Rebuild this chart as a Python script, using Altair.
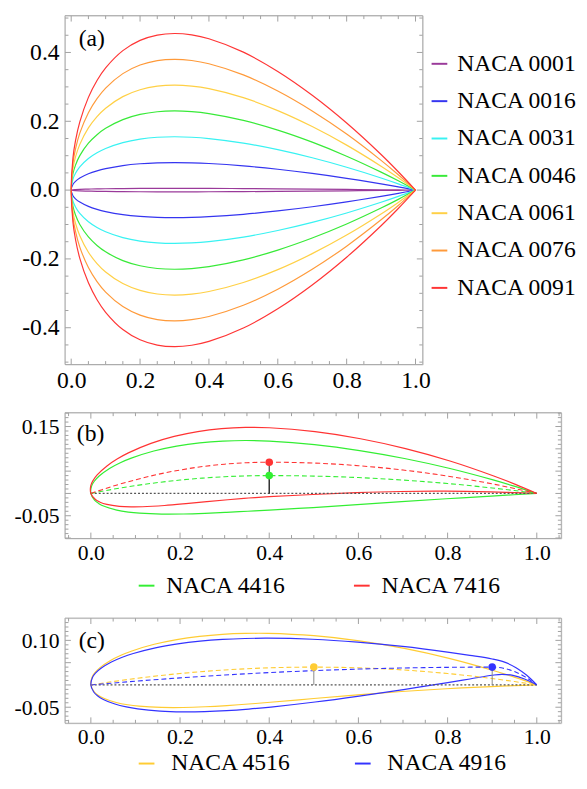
import altair as alt
import pandas as pd

FONT = "Liberation Serif"
FRAME = "#a8a8a8"
TICK = "#a0a0a0"

# ---------------- panel (a): symmetric sections, half-thickness read at X_A ----------------
X_A = [0.0, 0.005, 0.0125, 0.025, 0.05, 0.075, 0.1, 0.15, 0.2, 0.25, 0.3, 0.35, 0.4,
       0.5, 0.6, 0.7, 0.8, 0.9, 0.95, 1.0]
NAMES_A = ["NACA 0001", "NACA 0016", "NACA 0031", "NACA 0046", "NACA 0061", "NACA 0076", "NACA 0091"]
COLORS_A = ["#9a3a9a", "#3535f0", "#38f2f2", "#38ea38", "#ffd046", "#ff9a3a", "#ff3535"]
HALF_0001 = [0, 0.001, 0.0016, 0.0022, 0.003, 0.0035, 0.0039, 0.0045, 0.0048, 0.005, 0.005, 0.005,
             0.0048, 0.0044, 0.0038, 0.003, 0.0021, 0.0011, 0.0006, 0]
HALF_0016 = [0, 0.0163, 0.0253, 0.0349, 0.0474, 0.056, 0.0624, 0.0713, 0.0765, 0.0792, 0.08, 0.0793,
             0.0773, 0.0705, 0.0606, 0.0485, 0.0343, 0.0182, 0.0094, 0]
HALF_0031 = [0, 0.0316, 0.0489, 0.0676, 0.0918, 0.1085, 0.121, 0.1381, 0.1482, 0.1535, 0.155, 0.1536,
             0.1498, 0.1366, 0.1175, 0.0939, 0.0664, 0.0353, 0.0182, 0]
HALF_0046 = [0, 0.0468, 0.0726, 0.1002, 0.1363, 0.161, 0.1795, 0.2049, 0.2199, 0.2278, 0.2301, 0.228,
             0.2223, 0.2026, 0.1743, 0.1393, 0.0986, 0.0523, 0.027, 0]
HALF_0061 = [0, 0.0621, 0.0963, 0.1329, 0.1807, 0.2135, 0.238, 0.2717, 0.2916, 0.302, 0.3051, 0.3023,
             0.2948, 0.2687, 0.2311, 0.1847, 0.1307, 0.0694, 0.0358, 0]
HALF_0076 = [0, 0.0774, 0.1199, 0.1656, 0.2251, 0.266, 0.2966, 0.3385, 0.3634, 0.3763, 0.3801, 0.3767,
             0.3673, 0.3348, 0.288, 0.2301, 0.1629, 0.0864, 0.0446, 0]
HALF_0091 = [0, 0.0926, 0.1436, 0.1983, 0.2695, 0.3185, 0.3551, 0.4053, 0.4351, 0.4505, 0.4551, 0.451,
             0.4398, 0.4009, 0.3448, 0.2756, 0.195, 0.1035, 0.0534, 0]
HALF_A = [HALF_0001, HALF_0016, HALF_0031, HALF_0046, HALF_0061, HALF_0076, HALF_0091]

# ---------------- panel (b): NACA 4416 / 7416 ----------------
NAMES_B = ["NACA 4416", "NACA 7416"]
COLORS_B = ["#33ee33", "#ff3333"]
UX_4416 = [0, 0.0018, 0.0077, 0.0186, 0.0418, 0.066, 0.0907, 0.1412, 0.1924, 0.2441, 0.296, 0.348, 0.4,
           0.5016, 0.6027, 0.7032, 0.803, 0.902, 0.9511, 1.0]
UY_4416 = [0, 0.017, 0.0273, 0.0391, 0.0561, 0.0689, 0.0792, 0.0951, 0.1061, 0.1134, 0.1174, 0.1187, 0.1173,
           0.1094, 0.0961, 0.0783, 0.0564, 0.0303, 0.0157, 0]
LX_4416 = [0, 0.0082, 0.0173, 0.0314, 0.0582, 0.084, 0.1093, 0.1588, 0.2076, 0.2559, 0.304, 0.352, 0.4,
           0.4984, 0.5973, 0.6968, 0.797, 0.898, 0.9489, 1.0]
LY_4416 = [0, -0.015, -0.0223, -0.0294, -0.0373, -0.0417, -0.0442, -0.0463, -0.0461, -0.0446, -0.0424,
           -0.0399, -0.0373, -0.0316, -0.025, -0.0183, -0.0119, -0.0059, -0.0029, 0]
UX_7416 = [0, -0.0003, 0.0044, 0.0141, 0.0361, 0.0597, 0.0841, 0.1348, 0.1868, 0.2397, 0.293, 0.3465, 0.4,
           0.5027, 0.6047, 0.7056, 0.8053, 0.9035, 0.952, 1.0]
UY_7416 = [0, 0.0171, 0.0282, 0.0416, 0.0617, 0.0777, 0.091, 0.1123, 0.1279, 0.1387, 0.1453, 0.1481, 0.1473,
           0.1385, 0.1227, 0.1006, 0.0728, 0.0392, 0.0204, 0]
LX_7416 = [0, 0.0103, 0.0206, 0.0359, 0.0639, 0.0903, 0.1159, 0.1652, 0.2132, 0.2603, 0.307, 0.3535, 0.4,
           0.4973, 0.5953, 0.6944, 0.7947, 0.8965, 0.948, 1.0]
LY_7416 = [0, -0.0137, -0.0196, -0.0246, -0.0289, -0.0301, -0.0298, -0.027, -0.0229, -0.0184, -0.0141,
           -0.0103, -0.0073, -0.0024, 0.0018, 0.0044, 0.005, 0.0035, 0.002, 0]
CX_B = [0, 0.025, 0.05, 0.1, 0.15, 0.2, 0.25, 0.3, 0.35, 0.4, 0.5, 0.6, 0.7, 0.8, 0.9, 0.95, 1.0]
CY_4416 = [0, 0.0048, 0.0094, 0.0175, 0.0244, 0.03, 0.0344, 0.0375, 0.0394, 0.04, 0.0389, 0.0356, 0.03,
           0.0222, 0.0122, 0.0064, 0]
CY_7416 = [0, 0.0085, 0.0164, 0.0306, 0.0427, 0.0525, 0.0602, 0.0656, 0.0689, 0.07, 0.0681, 0.0622, 0.0525,
           0.0389, 0.0214, 0.0112, 0]
MAXC_X_B = [0.4, 0.4]
MAXC_Y_B = [0.04, 0.07]

# ---------------- panel (c): NACA 4516 / 4916 ----------------
NAMES_C = ["NACA 4516", "NACA 4916"]
COLORS_C = ["#ffcc33", "#3333ff"]
UX_4516 = [0, 0.0025, 0.0086, 0.0198, 0.0432, 0.0675, 0.0921, 0.1421, 0.1927, 0.2437, 0.2949, 0.3462, 0.3975,
           0.5, 0.6019, 0.7031, 0.8033, 0.9023, 0.9513, 1.0]
UY_4516 = [0, 0.0169, 0.0269, 0.0384, 0.0545, 0.0666, 0.0763, 0.0912, 0.1018, 0.109, 0.1135, 0.1156, 0.1157,
           0.1105, 0.099, 0.082, 0.0597, 0.0324, 0.0169, 0]
LX_4516 = [0, 0.0075, 0.0164, 0.0302, 0.0568, 0.0825, 0.1079, 0.1579, 0.2073, 0.2563, 0.3051, 0.3538, 0.4025,
           0.5, 0.5981, 0.6969, 0.7967, 0.8977, 0.9487, 1.0]
LY_4516 = [0, -0.0153, -0.023, -0.0306, -0.0393, -0.0444, -0.0475, -0.0504, -0.0506, -0.049, -0.0463,
           -0.0428, -0.0389, -0.0305, -0.0222, -0.0148, -0.0085, -0.0036, -0.0017, 0]
UX_4916 = [0, 0.0036, 0.0103, 0.022, 0.046, 0.0705, 0.0951, 0.1447, 0.1947, 0.2449, 0.2953, 0.3457, 0.3962,
           0.4972, 0.5982, 0.699, 0.7997, 0.8499, 0.9, 0.9277, 0.9535, 0.9775, 1.0]
UY_4916 = [0, 0.0167, 0.0263, 0.0369, 0.0515, 0.0622, 0.0706, 0.0833, 0.0921, 0.0982, 0.1021, 0.1042, 0.1049,
           0.1025, 0.0961, 0.0865, 0.0738, 0.0664, 0.0582, 0.0511, 0.0387, 0.0216, 0]
LX_4916 = [0, 0.0064, 0.0147, 0.028, 0.054, 0.0795, 0.1049, 0.1553, 0.2053, 0.2551, 0.3047, 0.3543, 0.4038,
           0.5028, 0.6018, 0.701, 0.8003, 0.8501, 0.9, 0.9223, 0.9465, 0.9725, 1.0]
LY_4916 = [0, -0.0158, -0.0241, -0.0325, -0.0429, -0.0494, -0.0538, -0.0588, -0.0605, -0.0599, -0.0577,
           -0.0541, -0.0496, -0.0383, -0.025, -0.0104, 0.0052, 0.0134, 0.0218, 0.0239, 0.0213, 0.0134, 0]
CX_4516 = [0, 0.025, 0.05, 0.1, 0.2, 0.3, 0.4, 0.5, 0.6, 0.7, 0.8, 0.9, 0.95, 1.0]
CY_4516 = [0, 0.0039, 0.0076, 0.0144, 0.0256, 0.0336, 0.0384, 0.04, 0.0384, 0.0336, 0.0256, 0.0144, 0.0076, 0]
CX_4916 = [0, 0.025, 0.05, 0.1, 0.2, 0.3, 0.4, 0.5, 0.6, 0.7, 0.8, 0.85, 0.9, 0.925, 0.95, 0.975, 1.0]
CY_4916 = [0, 0.0022, 0.0043, 0.0084, 0.0158, 0.0222, 0.0277, 0.0321, 0.0356, 0.038, 0.0395, 0.0399, 0.04,
           0.0375, 0.03, 0.0175, 0]
MAXC_X_C = [0.5, 0.9]
MAXC_Y_C = [0.04, 0.04]

CHORD_X = [0.0, 1.0]
CHORD_Y = [0.0, 0.0]

# tick values
X_MAJOR = [0.0, 0.2, 0.4, 0.6, 0.8, 1.0]
X_MINOR = [0.05, 0.1, 0.15, 0.25, 0.3, 0.35, 0.45, 0.5, 0.55, 0.65, 0.7, 0.75, 0.85, 0.9, 0.95]
X_MINOR_BC = [-0.05] + X_MINOR + [1.05]
Y_MAJOR_A = [-0.4, -0.2, 0.0, 0.2, 0.4]
Y_MINOR_A = [-0.5, -0.45, -0.35, -0.3, -0.25, -0.15, -0.1, -0.05, 0.05, 0.1, 0.15, 0.25, 0.3, 0.35, 0.45, 0.5]
Y_MAJOR_B = [-0.1, -0.05, 0.0, 0.05, 0.1, 0.15]
Y_MINOR_B = [round(-0.09 + 0.01 * i, 2) for i in range(28) if round(-0.09 + 0.01 * i, 2) not in Y_MAJOR_B]
Y_MAJOR_C = [-0.05, 0.0, 0.05, 0.1]
Y_MINOR_C = [round(-0.08 + 0.01 * i, 2) for i in range(23) if round(-0.08 + 0.01 * i, 2) not in Y_MAJOR_C]


def outline(name, ux, uy, lx, ly):
    rows = []
    for x, y in zip(ux[::-1], uy[::-1]):
        rows.append({"name": name, "x": x, "y": y, "o": len(rows)})
    for x, y in zip(lx[1:], ly[1:]):
        rows.append({"name": name, "x": x, "y": y, "o": len(rows)})
    return rows


def build_panel(tag, tag_xy, W, H, xdom, ydom, yvals, yfmt, labsize, ymaj, ymin, xminor,
                outlines, names, colors, legend, cambers=(), maxc=None, rule_color="black"):
    xs = alt.Scale(domain=xdom, nice=False, zero=False)
    ys = alt.Scale(domain=ydom, nice=False, zero=False)
    cs = alt.Scale(domain=names, range=colors)
    xaxis = alt.Axis(values=X_MAJOR, format=".1f", title=None, grid=False, ticks=False, tickSize=0,
                     domain=False, labelFontSize=labsize, labelFont=FONT, labelColor="black",
                     labelPadding=4, labelOverlap=False, labelFlush=False)
    yaxis = alt.Axis(values=yvals, format=yfmt, labelExpr="replace(datum.label, '\u2212', '-')",
                     title=None, grid=False, ticks=False, tickSize=0, domain=False,
                     labelFontSize=labsize, labelFont=FONT, labelColor="black", labelPadding=6,
                     labelOverlap=False, labelFlush=False)

    def X(f):
        return alt.X(f, scale=xs, axis=xaxis)

    def Y(f):
        return alt.Y(f, scale=ys, axis=yaxis)

    layers = []
    # curves first so that the merged axis and legend come from them
    layers.append(alt.Chart(outlines).mark_line(strokeWidth=1.2, interpolate="catmull-rom").encode(
        x=X("x:Q"), y=Y("y:Q"),
        color=alt.Color("name:N", scale=cs, legend=legend), order="o:Q"))
    if cambers:
        chord = pd.DataFrame({"x": CHORD_X, "y": CHORD_Y})
        layers.append(alt.Chart(chord).mark_line(color="#555555", strokeWidth=1.3, strokeDash=[2, 2]).encode(
            x=X("x:Q"), y=Y("y:Q")))
        for (cx, cy), col in zip(cambers, colors):
            d = pd.DataFrame({"x": cx, "y": cy})
            layers.append(alt.Chart(d).mark_line(color=col, strokeWidth=1.1, strokeDash=[5, 3],
                                                 interpolate="monotone").encode(x=X("x:Q"), y=Y("y:Q")))
    if maxc is not None:
        mx, my = maxc
        d = pd.DataFrame({"x": mx, "y": my})
        layers.append(alt.Chart(d).mark_rule(color=rule_color, strokeWidth=1).encode(
            x=X("x:Q"), y=Y("y:Q"), y2=alt.datum(0)))
        for x, y, col in zip(mx, my, colors):
            layers.append(alt.Chart(pd.DataFrame({"x": [x], "y": [y]})).mark_circle(
                size=60, opacity=1, color=col).encode(x=X("x:Q"), y=Y("y:Q")))
    # inward frame ticks and frame
    for vals, L in ((X_MAJOR, 6), (xminor, 3.5)):
        d = pd.DataFrame({"v": vals})
        layers.append(alt.Chart(d).mark_rule(color=TICK, strokeWidth=1).encode(
            x=X("v:Q"), y=alt.value(H), y2=alt.value(H - L)))
        layers.append(alt.Chart(d).mark_rule(color=TICK, strokeWidth=1).encode(
            x=X("v:Q"), y=alt.value(0), y2=alt.value(L)))
    for vals, L in ((ymaj, 6), (ymin, 3.5)):
        d = pd.DataFrame({"v": vals})
        layers.append(alt.Chart(d).mark_rule(color=TICK, strokeWidth=1).encode(
            y=Y("v:Q"), x=alt.value(0), x2=alt.value(L)))
        layers.append(alt.Chart(d).mark_rule(color=TICK, strokeWidth=1).encode(
            y=Y("v:Q"), x=alt.value(W), x2=alt.value(W - L)))
    layers.append(alt.Chart(pd.DataFrame({"v": [0]})).mark_rect(filled=False, stroke=FRAME, strokeWidth=1).encode(
        x=alt.value(0), x2=alt.value(W), y=alt.value(0), y2=alt.value(H)))
    layers.append(alt.Chart(pd.DataFrame({"t": [tag]})).mark_text(
        align="left", baseline="middle", fontSize=24, font=FONT, color="black").encode(
        x=alt.value(tag_xy[0]), y=alt.value(tag_xy[1]), text="t:N"))
    return alt.layer(*layers).properties(width=W, height=H)


def leg(x, y, direction, col_pad=20, offset=6, row_pad=14):
    return alt.Legend(orient="none", legendX=x, legendY=y, direction=direction, title=None,
                      symbolType="stroke", symbolSize=256, symbolStrokeWidth=2, symbolOpacity=1,
                      labelFontSize=24, labelFont=FONT, labelColor="black", rowPadding=row_pad,
                      columnPadding=col_pad, labelOffset=offset)


# panel (a) data
rows_a = []
for name, half in zip(NAMES_A, HALF_A):
    rows_a += outline(name, X_A, half, X_A, [-v for v in half])  # lower surface mirrors upper
df_a = pd.DataFrame(rows_a)

# panel (b) data
df_b = pd.DataFrame(outline("NACA 4416", UX_4416, UY_4416, LX_4416, LY_4416) +
                    outline("NACA 7416", UX_7416, UY_7416, LX_7416, LY_7416))
# panel (c) data
df_c = pd.DataFrame(outline("NACA 4516", UX_4516, UY_4516, LX_4516, LY_4516) +
                    outline("NACA 4916", UX_4916, UY_4916, LX_4916, LY_4916))

pa = build_panel("(a)", (14, 24), 364, 355, [-0.018, 1.021], [-0.507, 0.507], Y_MAJOR_A,
                 ".1f", 24, Y_MAJOR_A, Y_MINOR_A, X_MINOR, df_a, NAMES_A, COLORS_A,
                 leg(369, 37, "vertical"))
pb = build_panel("(b)", (12, 22), 505, 128, [-0.058, 1.055], [-0.101, 0.181],
                 [-0.05, 0.15], ".2f", 22, Y_MAJOR_B, Y_MINOR_B, X_MINOR_BC, df_b, NAMES_B, COLORS_B,
                 leg(71, 164, "horizontal", col_pad=64, offset=8),
                 cambers=((CX_B, CY_4416), (CX_B, CY_7416)), maxc=(MAXC_X_B, MAXC_Y_B),
                 rule_color="#222222")
pc = build_panel("(c)", (14, 23), 505, 107, [-0.058, 1.055], [-0.086, 0.150],
                 [-0.05, 0.10], ".2f", 22, Y_MAJOR_C, Y_MINOR_C, X_MINOR_BC, df_c, NAMES_C, COLORS_C,
                 leg(71, 136, "horizontal", col_pad=60, offset=13),
                 cambers=((CX_4516, CY_4516), (CX_4916, CY_4916)), maxc=(MAXC_X_C, MAXC_Y_C),
                 rule_color="#888888")

chart = alt.vconcat(pa, pb, pc, spacing=19).resolve_scale(color="independent").properties(
    padding={"left": 5, "top": 0, "right": 0, "bottom": 0}
).configure_view(strokeWidth=0).configure(font=FONT)

chart.save("out.html", embed_options={"renderer": "svg", "actions": False})
